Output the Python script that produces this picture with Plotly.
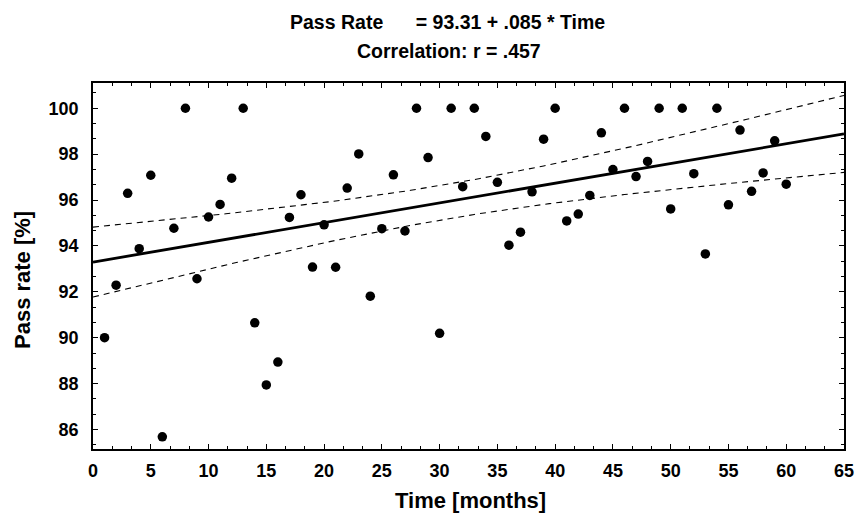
import numpy as np
import plotly.graph_objects as go

# ---- data ----
months = list(range(1, 61))
pass_rate = [
    90.00, 92.29, 96.29, 93.88, 97.08, 85.68, 94.77, 100.0, 92.57, 95.26,
    95.81, 96.95, 100.0, 90.65, 87.94, 88.94, 95.24, 96.23, 93.08, 94.92,
    93.07, 96.52, 98.01, 91.81, 94.75, 97.10, 94.65, 100.0, 97.85, 90.19,
    100.0, 96.58, 100.0, 98.77, 96.77, 94.03, 94.60, 96.36, 98.65, 100.0,
    95.09, 95.39, 96.20, 98.93, 97.33, 100.0, 97.02, 97.68, 100.0, 95.61,
    100.0, 97.15, 93.65, 100.0, 95.79, 99.05, 96.38, 97.18, 98.58, 96.69,
]
x_ticks = list(range(0, 70, 5))
y_ticks = [86, 88, 90, 92, 94, 96, 98, 100]
T_CRIT = 2.0017  # t(0.975, df=58)

title_line1 = "Pass Rate\u00a0\u00a0\u00a0\u00a0\u00a0\u00a0= 93.31 + .085 * Time"
title_line2 = "Correlation: r = .457"

# ---- regression + 95% confidence band for the mean ----
x = np.array(months, float)
y = np.array(pass_rate, float)
slope, intercept = np.polyfit(x, y, 1)
resid = y - (intercept + slope * x)
n = len(x)
s = np.sqrt(np.sum(resid ** 2) / (n - 2))
xg = np.linspace(0, 65, 131)
yfit = intercept + slope * xg
se = s * np.sqrt(1.0 / n + (xg - x.mean()) ** 2 / np.sum((x - x.mean()) ** 2))
upper = yfit + T_CRIT * se
lower = yfit - T_CRIT * se

FONT = "Liberation Sans, Arial, sans-serif"

fig = go.Figure()
fig.add_trace(go.Scatter(x=xg, y=upper, mode="lines",
                         line=dict(color="black", width=1.1, dash="6px,5px"),
                         hoverinfo="skip"))
fig.add_trace(go.Scatter(x=xg, y=lower, mode="lines",
                         line=dict(color="black", width=1.1, dash="6px,5px"),
                         hoverinfo="skip"))
fig.add_trace(go.Scatter(x=xg, y=yfit, mode="lines",
                         line=dict(color="black", width=2.8)))
fig.add_trace(go.Scatter(x=months, y=pass_rate, mode="markers",
                         marker=dict(color="black", size=9.5)))

axis_common = dict(
    showgrid=False, zeroline=False, showline=True, linecolor="black",
    linewidth=1.5, mirror="allticks", ticks="inside", ticklen=5,
    tickcolor="black", tickwidth=1, automargin=False,
    tickfont=dict(family=FONT, size=18, color="black", weight="bold"),
)

fig.update_xaxes(range=[0, 65], tickmode="array", tickvals=x_ticks,
                 ticklabelstandoff=5,
                 minor=dict(dtick=5 / 3, ticks="inside", ticklen=3,
                            tickcolor="black", showgrid=False),
                 **axis_common)
fig.update_yaxes(range=[85.15, 101.1], tickmode="array", tickvals=y_ticks,
                 ticklabelstandoff=9,
                 minor=dict(dtick=2 / 3, tick0=0, ticks="inside", ticklen=3,
                            tickcolor="black", showgrid=False),
                 **axis_common)

L, R, T, B = 93, 14, 83, 69
H = 518 - T - B
W = 858 - L - R

def py(p):
    return (518 - B - p) / H

def px(p):
    return (p - L) / W

ann_font = dict(family=FONT, color="black", weight="bold")
fig.update_layout(
    width=858, height=518,
    margin=dict(l=L, r=R, t=T, b=B),
    paper_bgcolor="white", plot_bgcolor="white",
    showlegend=False,
    annotations=[
        dict(text=title_line1, x=px(447), y=py(22), xref="paper", yref="paper",
             showarrow=False, xanchor="center", yanchor="middle",
             font=dict(size=19.5, **ann_font)),
        dict(text=title_line2, x=px(449), y=py(51), xref="paper", yref="paper",
             showarrow=False, xanchor="center", yanchor="middle",
             font=dict(size=19.5, **ann_font)),
        dict(text="Time [months]", x=px(470), y=py(500), xref="paper", yref="paper",
             showarrow=False, xanchor="center", yanchor="middle",
             font=dict(size=22, **ann_font)),
        dict(text="Pass rate [%]", x=px(22), y=py(280), xref="paper", yref="paper",
             showarrow=False, xanchor="center", yanchor="middle", textangle=-90,
             font=dict(size=22, **ann_font)),
    ],
)

fig.write_html("out.html", config={"displayModeBar": False},
               post_script="document.body.style.margin='0';document.body.style.overflow='hidden';")
